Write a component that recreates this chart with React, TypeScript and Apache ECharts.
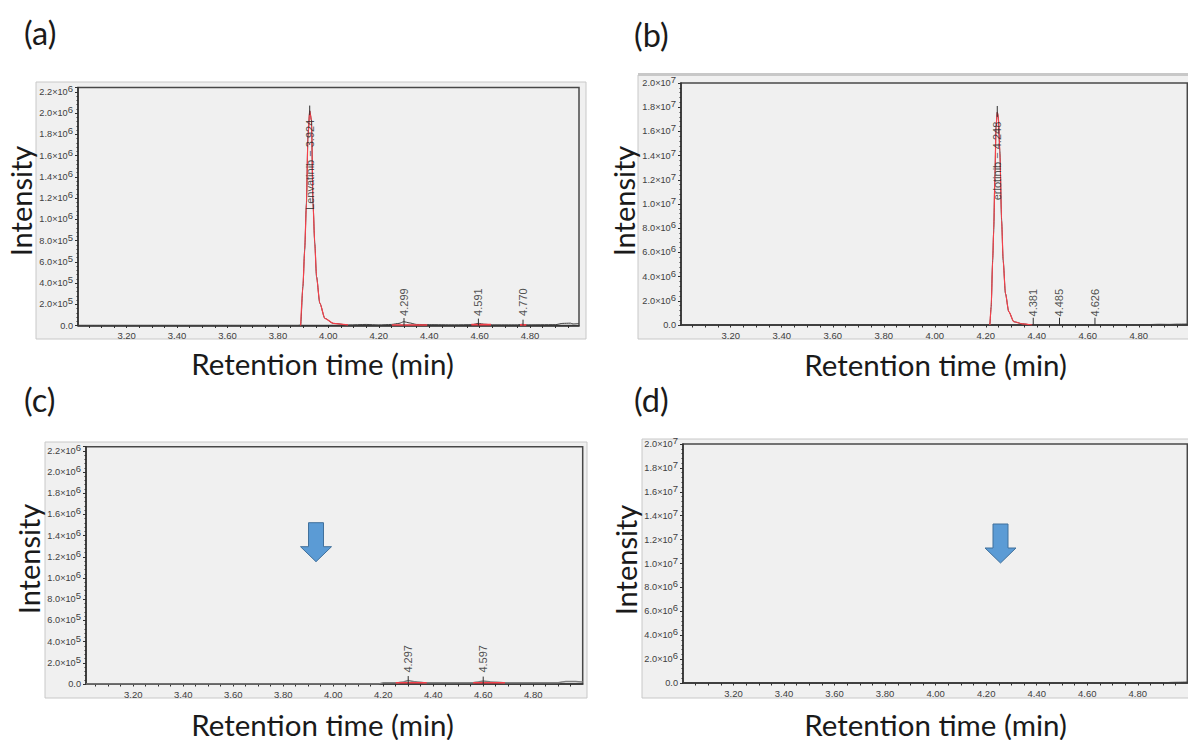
import React, { useEffect, useRef } from "react";
import * as echarts from "echarts";

const FONT_BIG = "Lato";
const FONT_SMALL = "Liberation Sans";

const xLabels = [3.2, 3.4, 3.6, 3.8, 4.0, 4.2, 4.4, 4.6, 4.8];
const xTicks = [3.05, 3.1, 3.15, 3.2, 3.25, 3.3, 3.35, 3.4, 3.45, 3.5, 3.55, 3.6, 3.65, 3.7, 3.75, 3.8, 3.85, 3.9, 3.95, 4.0, 4.05, 4.1, 4.15, 4.2, 4.25, 4.3, 4.35, 4.4, 4.45, 4.5, 4.55, 4.6, 4.65, 4.7, 4.75, 4.8, 4.85, 4.9, 4.95];

// Black traces: [time, intensity]
const traceA: number[][] = [[3.007, 0], [3.88, 0], [3.89, 0.004e6], [3.899, 0.365e6], [3.906, 0.71e6], [3.913, 1.15e6], [3.919, 1.78e6], [3.926, 2.02e6], [3.933, 1.93e6], [3.939, 1.15e6], [3.946, 0.776e6], [3.953, 0.46e6], [3.966, 0.21e6], [3.986, 0.068e6], [4.019, 0.02e6], [4.08, 0.005e6], [4.15, 0.01e6], [4.2, 0.005e6], [4.25, 0.01e6], [4.28, 0.02e6], [4.3, 0.036e6], [4.32, 0.025e6], [4.35, 0.01e6], [4.4, 0.008e6], [4.5, 0.006e6], [4.57, 0.008e6], [4.595, 0.02e6], [4.62, 0.012e6], [4.65, 0.006e6], [4.75, 0.006e6], [4.77, 0.012e6], [4.78, 0.006e6], [4.9, 0.008e6], [4.93, 0.02e6], [4.96, 0.022e6], [4.97, 0.015e6], [4.994, 0.02e6]];
const traceB: number[][] = [[3.005, 0], [4.21, 0], [4.216, 0.01e7], [4.221, 0.151e7], [4.227, 0.536e7], [4.231, 0.784e7], [4.236, 1.25e7], [4.24, 1.635e7], [4.245, 1.76e7], [4.249, 1.72e7], [4.255, 1.44e7], [4.262, 0.866e7], [4.268, 0.536e7], [4.277, 0.261e7], [4.29, 0.11e7], [4.31, 0.027e7], [4.343, 0.01e7], [4.382, 0], [4.8, 0], [4.84, 0.004e7], [4.88, 0.006e7], [4.92, 0.005e7], [4.95, 0.007e7], [4.99, 0.008e7]];
const traceC: number[][] = [[3.011, 0], [4.18, 0], [4.2, 0.012e6], [4.26, 0.012e6], [4.28, 0.02e6], [4.3, 0.032e6], [4.33, 0.022e6], [4.37, 0.012e6], [4.56, 0.012e6], [4.58, 0.02e6], [4.6, 0.028e6], [4.63, 0.02e6], [4.68, 0.012e6], [4.9, 0.012e6], [4.93, 0.024e6], [4.97, 0.024e6], [4.998, 0.018e6]];
const traceD: number[][] = [[3.0, 0], [4.84, 0], [4.87, 0.004e7], [4.9, 0.002e7], [4.93, 0.005e7], [4.95, 0.006e7], [4.996, 0.008e7]];

// Red integrated regions
const redA: number[][][] = [
  [[3.89, 0], [3.899, 0.365e6], [3.906, 0.71e6], [3.913, 1.15e6], [3.919, 1.78e6], [3.926, 2.02e6], [3.933, 1.93e6], [3.939, 1.15e6], [3.946, 0.776e6], [3.953, 0.46e6], [3.966, 0.21e6], [3.986, 0.068e6], [4.019, 0.02e6], [4.078, 0.005e6]],
  [[4.252, 0.005e6], [4.392, 0.005e6]],
  [[4.567, 0.008e6], [4.645, 0.008e6]],
  [[4.76, 0.006e6], [4.785, 0.006e6]],
];
const redB: number[][][] = [
  [[4.216, 0], [4.221, 0.151e7], [4.227, 0.536e7], [4.231, 0.784e7], [4.236, 1.25e7], [4.24, 1.635e7], [4.245, 1.76e7], [4.249, 1.72e7], [4.255, 1.44e7], [4.262, 0.866e7], [4.268, 0.536e7], [4.277, 0.261e7], [4.29, 0.11e7], [4.31, 0.027e7], [4.343, 0.01e7], [4.382, 0]],
];
const redC: number[][][] = [
  [[4.25, 0.012e6], [4.374, 0.012e6]],
  [[4.56, 0.012e6], [4.687, 0.012e6]],
];
const redD: number[][][] = [];

// Peak annotations: [time, tick bottom, tick top, label bottom, label]
type Peak = [number, number, number, number, string];
const peaksA: Peak[] = [
  [3.926, 1.98e6, 2.07e6, 1.087e6, "Lenvatinib − 3.924"],
  [4.3, 0, 0.07e6, 0.09e6, "4.299"],
  [4.595, 0, 0.065e6, 0.09e6, "4.591"],
  [4.772, 0, 0.055e6, 0.09e6, "4.770"],
];
const peaksB: Peak[] = [
  [4.245, 1.72e7, 1.81e7, 1.03e7, "erlotinib − 4.248"],
  [4.386, 0, 0.06e7, 0.07e7, "4.381"],
  [4.489, 0, 0.06e7, 0.07e7, "4.485"],
  [4.628, 0, 0.06e7, 0.07e7, "4.626"],
];
const peaksC: Peak[] = [
  [4.3, 0, 0.075e6, 0.107e6, "4.297"],
  [4.6, 0, 0.07e6, 0.107e6, "4.597"],
];
const peaksD: Peak[] = [];

const panels = [
  { tag: "(a)", tagX: 24, tagY: 32, box: [36, 82, 550, 257], band: 0, left: 78, top: 87.5, right: 579, bottom: 325.5, xMin: 3.007, xMax: 4.994, yMax: 2.24e6, step: 2e5, trace: traceA, red: redA, peaks: peaksA, nameX: 322.5, nameGapX: 23, nameYC: 201, gapY: 37.5 },
  { tag: "(b)", tagX: 634, tagY: 34, box: [638, 75, 551, 264], band: 3, left: 681, top: 83, right: 1187.3, bottom: 325, xMin: 3.005, xMax: 4.99, yMax: 2.0e7, step: 2e6, trace: traceB, red: redB, peaks: peaksB, nameX: 935.5, nameGapX: 24, nameYC: 201, gapY: 37.5 },
  { tag: "(c)", tagX: 24, tagY: 399, box: [45, 442, 542, 256], band: 0, left: 86, top: 446.7, right: 582.7, bottom: 684, xMin: 3.011, xMax: 4.998, yMax: 2.239e6, step: 2e5, trace: traceC, red: redC, peaks: peaksC, nameX: 322.5, nameGapX: 25, nameYC: 559, gapY: 41 },
  { tag: "(d)", tagX: 634, tagY: 399, box: [642, 439, 547, 259], band: 0, left: 683, top: 444, right: 1187.3, bottom: 683, xMin: 3.0, xMax: 4.996, yMax: 2.0e7, step: 2e6, trace: traceD, red: redD, peaks: peaksD, nameX: 935.5, nameGapX: 26, nameYC: 560, gapY: 37 },
];

const arrows = [
  { cx: 316, top: 522.7 },
  { cx: 1000.5, top: 524 },
];

function yLabel(v: number) {
  if (v === 0) return "0.0";
  const exp = Math.floor(Math.log10(v) + 1e-9);
  return `${(v / Math.pow(10, exp)).toFixed(1)}×10{s|${exp}}`;
}

function buildOption() {
  const grid: any[] = [];
  const xAxis: any[] = [];
  const yAxis: any[] = [];
  const series: any[] = [];
  const graphic: any[] = [];

  panels.forEach((p, i) => {
    const w = p.right - p.left;
    const h = p.bottom - p.top;
    grid.push({ left: p.left, top: p.top, width: w, height: h, outerBoundsMode: "none", show: true, backgroundColor: "#f0f0f0", borderColor: "#484848", borderWidth: 1.5 });
    const plotCx = p.left + w / 2;
    const shiftX = plotCx - p.nameX;
    const plotCy = p.top + h / 2;
    const shiftY = plotCy - p.nameYC;
    xAxis.push({
      type: "value", gridIndex: i, min: p.xMin, max: p.xMax,
      name: "Retention time (min)", nameLocation: "middle", nameGap: p.nameGapX,
      nameTextStyle: { fontFamily: FONT_BIG, fontSize: 29.5, color: "#1a1a1a", padding: shiftX >= 0 ? [0, shiftX * 2, 0, 0] : [0, 0, 0, -shiftX * 2] },
      splitLine: { show: false },
      axisLine: { show: true, onZero: false, lineStyle: { color: "#303030", width: 1.5 } },
      axisTick: { show: true, length: 2.5, customValues: xTicks, lineStyle: { color: "#303030", width: 1 } },
      axisLabel: { customValues: xLabels, margin: 5, fontFamily: FONT_SMALL, fontSize: 9.5, color: "#404040", formatter: (v: number) => v.toFixed(2) },
    });
    yAxis.push({
      type: "value", gridIndex: i, min: 0, max: p.yMax, interval: p.step,
      name: "Intensity", nameLocation: "middle", nameGap: p.gapY, nameRotate: 90,
      nameTextStyle: { fontFamily: FONT_BIG, fontSize: 29, color: "#1a1a1a", padding: shiftY >= 0 ? [0, 0, 0, shiftY * 2] : [0, -shiftY * 2, 0, 0] },
      splitLine: { show: false },
      axisLine: { show: true, onZero: false, lineStyle: { color: "#303030", width: 1.5 } },
      axisTick: { show: true, length: 3, lineStyle: { color: "#303030", width: 1 } },
      minorTick: { show: true, splitNumber: 5, length: 1.5, lineStyle: { color: "#303030", width: 1 } },
      axisLabel: {
        margin: 5, fontFamily: FONT_SMALL, fontSize: 9.2, color: "#404040", showMaxLabel: p.yMax % p.step === 0,
        formatter: yLabel,
        rich: { s: { fontFamily: FONT_SMALL, fontSize: 9.5, color: "#404040", padding: [0, 0, 7, 0] } },
      },
    });
    series.push({
      type: "line", name: `trace ${i}`, xAxisIndex: i, yAxisIndex: i, data: p.trace, showSymbol: false, silent: true, smooth: 0.25, smoothMonotone: "x",
      lineStyle: { color: i === 2 ? "#808080" : "#404040", width: i === 2 ? 1.5 : 1 }, z: 2,
    });
    p.red.forEach((seg, j) => {
      series.push({
        type: "line", name: `integration ${i}-${j}`, xAxisIndex: i, yAxisIndex: i, data: seg, showSymbol: false, silent: true, smooth: 0.25, smoothMonotone: "x",
        lineStyle: { color: "#f5404a", width: j === 0 && seg.length > 2 ? 1.2 : 1.6 }, z: 3,
      });
    });
    p.peaks.forEach((pk, j) => {
      series.push({
        type: "line", name: `tick ${i}-${j}`, xAxisIndex: i, yAxisIndex: i, data: [[pk[0], pk[1]], [pk[0], pk[2]]], showSymbol: false, silent: true,
        lineStyle: { color: "#303030", width: 1 }, z: 4,
      });
    });
    if (p.peaks.length) {
      series.push({
        type: "scatter", name: `labels ${i}`, xAxisIndex: i, yAxisIndex: i, symbolSize: 0.1, silent: true, z: 5,
        itemStyle: { color: "rgba(0,0,0,0)" },
        data: p.peaks.map((pk) => ({ value: [pk[0], pk[3]], name: pk[4] })),
        label: { show: true, position: [0, 0], rotate: 90, align: "left", verticalAlign: "middle", formatter: "{b}", fontFamily: FONT_SMALL, fontSize: 11, color: "#262626" },
      });
    }
    graphic.push({ type: "rect", z: -1, shape: { x: p.box[0], y: p.box[1], width: p.box[2], height: p.box[3] }, style: { fill: "#f0f0f0", stroke: "#c8c8c8", lineWidth: 1 } });
    if (p.band) {
      graphic.push({ type: "rect", z: -1, shape: { x: p.box[0], y: p.box[1] - p.band + 1, width: p.box[2], height: p.band }, style: { fill: "#c8c8c8" } });
    }
    graphic.push({ type: "text", z: 10, x: p.tagX, y: p.tagY, style: { text: p.tag, fontFamily: FONT_BIG, fontSize: 32.5, fill: "#1a1a1a", verticalAlign: "middle", align: "left" } });
  });

  arrows.forEach((a) => {
    const c = a.cx, t = a.top;
    graphic.push({
      type: "polygon", z: 10,
      shape: { points: [[c - 7.5, t], [c + 7.5, t], [c + 7.5, t + 24], [c + 15.5, t + 24], [c, t + 39], [c - 15.5, t + 24], [c - 7.5, t + 24]] },
      style: { fill: "#5b9bd5", stroke: "#41719c", lineWidth: 1 },
    });
  });

  return { animation: false, backgroundColor: "#ffffff", grid, xAxis, yAxis, series, graphic };
}

export default function App() {
  const ref = useRef<HTMLDivElement>(null);
  useEffect(() => {
    document.body.style.margin = "0";
    const chart = echarts.init(ref.current!, undefined, { renderer: "svg" });
    chart.setOption(buildOption() as any);
    return () => chart.dispose();
  }, []);
  return <div ref={ref} style={{ position: "fixed", left: 0, top: 0, width: 1188, height: 740 }} />;
}
